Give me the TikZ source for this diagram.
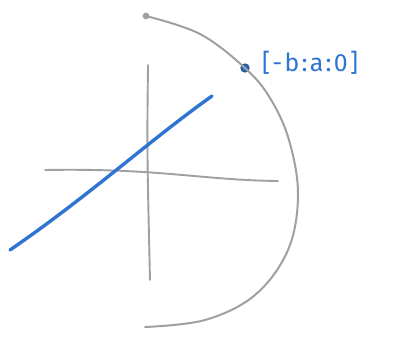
\documentclass[tikz,border=0pt]{standalone}
\usepackage{fontspec}
\setsansfont{Fira Sans}
\usepackage{xcolor}
\usepackage{tikz}
\usetikzlibrary{positioning,calc}

\definecolor{pencil}{RGB}{160,160,160}
\definecolor{penblue}{RGB}{48,116,210}

\begin{document}
\begin{tikzpicture}[x=1pt, y=-1pt, font=\sffamily\Huge,
  axisline/.style={pencil, line width=1.9pt, line cap=round},
  slope/.style={penblue, line width=3.4pt, line cap=round},
  arcline/.style={pencil, line width=2pt, line cap=round}]
\useasboundingbox (0,0) rectangle (398,338);
% axes
\coordinate (ytop) at (148,65);
\coordinate (ybot) at (150,280);
\coordinate (xleft) at (45,170);
\coordinate (xright) at (278,181);
\draw[axisline] (ytop) .. controls (147,150) .. (ybot);
\draw[axisline] (xleft) .. controls (160,168) and (200,180) .. (xright);
% blue line
\coordinate (bstart) at (10,250);
\coordinate (bend) at (212,96);
\draw[slope] (bstart) .. controls (90,195) and (150,140) .. (bend);
% arc with start point
\node[circle, fill=pencil, inner sep=2.4pt] (start) at (146,16) {};
\node[circle, draw=penblue!75!black, fill=penblue, line width=1.8pt, inner sep=2.6pt] (pt) at (245,68) {};
\draw[arcline] plot[smooth, tension=0.6] coordinates
  {(146,16) (200,34) (245,68) (270,98) (289,140) (298,195) (288,250) (255,295) (205,320) (145,327)};
% label
\node[penblue, anchor=west, inner sep=0pt] (lbl) at (262,63) {\addfontfeature{LetterSpace=9}[-b:a:0]};
\end{tikzpicture}
\end{document}
